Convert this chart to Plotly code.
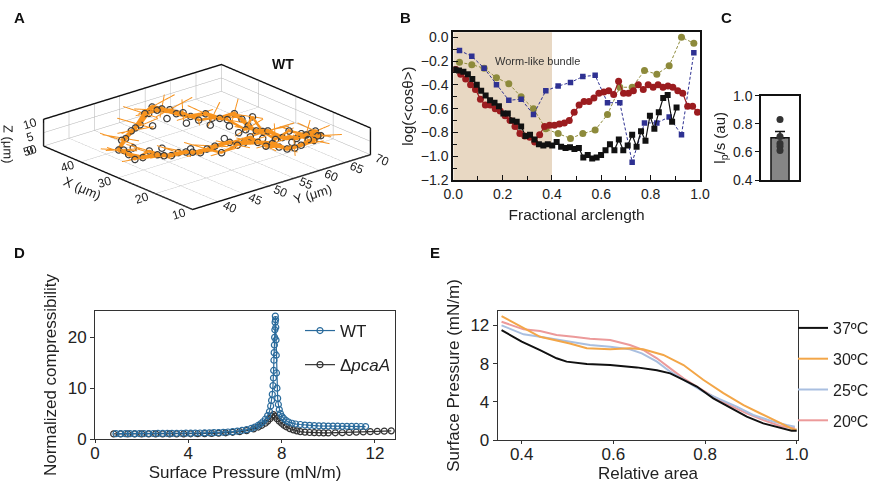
import plotly.graph_objects as go

FONT = "Arial, Liberation Sans, sans-serif"

# ---------------- Panel A data (3D filament, μm) ----------------
a_x = [38.2, 40.6, 43.4, 46.6, 48.2, 46.4, 44.0, 41.4, 39.7, 37.4, 36.5, 34.6, 31.4, 28.7, 26.4, 23.3, 21.4,
       20.6, 21.0, 19.7, 18.7, 18.4, 19.6, 22.3, 24.3, 26.6, 27.5, 27.8, 28.0, 28.9, 30.2, 31.1, 32.7, 35.4, 38.2]
a_y = [41.1, 44.2, 48.2, 52.4, 55.0, 55.6, 56.7, 57.6, 59.3, 60.4, 62.6, 62.7, 61.6, 61.2, 61.8, 62.4, 63.8,
       65.1, 67.2, 67.3, 65.2, 62.5, 60.6, 59.7, 58.3, 57.2, 55.1, 52.4, 49.7, 47.5, 45.6, 43.5, 41.8, 41.0, 41.1]
a_z = [2, 3, 3, 4, 4, 4, 3, 3, 4, 3, 4, 3, 3, 3, 4, 3, 3, 4, 4, 3, 3, 3, 2, 3, 3, 2, 3, 3, 2, 3, 2, 3, 2, 2, 2]
a2_x = [42.2, 42.3, 39.4, 36.0, 32.5, 30.0, 25.2, 20.5, 18.7, 37.3, 33.0, 30.5, 29.5]
a2_y = [50.7, 53.6, 55.3, 57.5, 58.7, 58.7, 59.9, 62.2, 64.1, 43.3, 45.8, 49.6, 55.5]
a2_z = [3, 4, 3, 3, 4, 3, 3, 3, 4, 2, 3, 2, 3]
a3_x = [40.4, 41.8, 45.0, 47.2, 45.5, 46.2, 42.6, 39.1, 39.3, 35.1, 30.3, 32.3, 28.7, 23.4, 24.0, 22.6, 22.6,
        19.0, 18.1, 21.2, 22.0, 26.2, 25.6, 25.6, 27.6, 27.1, 30.5, 30.0, 33.4, 32.9, 36.6]
a3_y = [43.3, 46.2, 50.3, 53.6, 54.0, 57.0, 57.0, 57.5, 60.3, 60.2, 60.3, 63.1, 62.5, 61.1, 64.2, 65.6, 67.5,
        66.2, 61.0, 60.2, 58.2, 58.2, 55.2, 52.1, 50.7, 47.5, 47.2, 44.0, 43.6, 40.4, 40.9]
a3_z = [3, 4, 2, 3, 5, 3, 4, 3, 2, 4, 3, 5, 2, 3, 4, 3, 2, 4, 3, 2, 3, 4, 3, 2, 3, 4, 2, 3, 3, 2, 3]
# tangent spikes (orange)
s_dx = [-3, 2, -2, 3, -2, 2, 3, -2, 2, -3, 3, -2, 2, 3, -3, 2, -2, 3, 2, -3, 3, -2, 2, -3, 3, -2, -3, 2, -2, 3, -3, 2, -2, 3]
s_dy = [2, -3, 3, -2, 3, 2, -3, 3, -2, 2, 3, -3, 2, -2, 3, -3, 2, 3, -2, 2, -3, 3, -2, 3, -2, 3, 2, -3, 3, -2, 2, -3, 3, -2]
s_dz = [1, 2, 3, 2, 4, 3, 1, 2, 3, 1, 2, 4, 2, 1, 3, 2, 1, 2, 3, 1, 2, 1, 2, 3, 1, 2, 3, 1, 2, 1, 2, 3, 1, 2]
s3_dx = [3, -2, 2, -3, 2, -2, 3, -3, 2, 3, -2, 2, -3, 3, -2, 3, -2, 2, 3, -3, 2, -2, 3, -2, 2, -3, 3, -2, 2, -3, 2]
s3_dy = [-2, 3, -3, 2, -3, 3, 2, -2, 3, -3, 2, -2, 3, 2, -3, -2, 3, -3, 2, 3, -2, 3, -2, 2, -3, 2, -2, 3, -3, 2, -3]
s3_dz = [2, 1, 3, 2, 1, 4, 2, 1, 3, 2, 4, 1, 2, 3, 1, 2, 3, 1, 2, 1, 3, 2, 1, 2, 3, 1, 2, 1, 3, 2, 1]

# ---------------- Panel B data ----------------
b_black_x = [0.005, 0.023, 0.041, 0.059, 0.077, 0.095, 0.113, 0.131, 0.149, 0.167, 0.185, 0.203, 0.221, 0.239,
             0.257, 0.275, 0.293, 0.311, 0.329, 0.347, 0.365, 0.383, 0.401, 0.419, 0.437, 0.455, 0.473, 0.491,
             0.509, 0.527, 0.545, 0.563, 0.581, 0.599, 0.617, 0.635, 0.653, 0.671, 0.689, 0.707, 0.725, 0.743,
             0.761, 0.779, 0.797, 0.815, 0.833, 0.851, 0.869, 0.887, 0.905]
b_black_y = [-0.27, -0.28, -0.29, -0.31, -0.35, -0.40, -0.45, -0.49, -0.53, -0.55, -0.58, -0.64, -0.64, -0.70,
             -0.71, -0.75, -0.83, -0.82, -0.86, -0.90, -0.91, -0.90, -0.91, -0.88, -0.92, -0.93, -0.925, -0.94,
             -0.93, -1.01, -0.99, -1.02, -1.01, -0.99, -0.95, -0.90, -0.95, -0.86, -0.95, -0.91, -0.82, -0.92,
             -0.79, -0.87, -0.66, -0.77, -0.63, -0.51, -0.485, -0.71, -0.59]
b_red_x = [0.01, 0.03, 0.05, 0.07, 0.09, 0.11, 0.13, 0.15, 0.17, 0.19, 0.21, 0.23, 0.25, 0.27, 0.29, 0.31, 0.33,
           0.35, 0.37, 0.39, 0.41, 0.43, 0.45, 0.47, 0.49, 0.51, 0.53, 0.55, 0.57, 0.59, 0.61, 0.63, 0.65, 0.67,
           0.69, 0.71, 0.73, 0.75, 0.77, 0.79, 0.81, 0.83, 0.85, 0.87, 0.89, 0.91, 0.93, 0.95, 0.97, 0.99]
b_red_y = [-0.27, -0.31, -0.35, -0.40, -0.44, -0.52, -0.57, -0.57, -0.60, -0.62, -0.66, -0.70, -0.75, -0.81,
           -0.83, -0.84, -0.88, -0.82, -0.75, -0.74, -0.74, -0.73, -0.72, -0.70, -0.63, -0.57, -0.54, -0.54,
           -0.51, -0.47, -0.46, -0.45, -0.48, -0.37, -0.47, -0.47, -0.45, -0.40, -0.44, -0.40, -0.42, -0.40,
           -0.42, -0.41, -0.42, -0.45, -0.47, -0.58, -0.58, -0.63]
b_grid_x = [0.025, 0.075, 0.125, 0.175, 0.225, 0.275, 0.325, 0.375, 0.425, 0.475, 0.525, 0.575, 0.625, 0.675,
            0.725, 0.775, 0.825, 0.875, 0.925, 0.975]
b_olive_y = [-0.21, -0.23, -0.26, -0.34, -0.39, -0.50, -0.60, -0.77, -0.81, -0.85, -0.81, -0.78, -0.65, -0.42,
             -0.42, -0.28, -0.31, -0.24, 0.00, -0.05]
b_blue_y = [-0.11, -0.16, -0.26, -0.40, -0.53, -0.52, -0.65, -0.45, -0.41, -0.38, -0.33, -0.32, -0.55, -0.55,
            -1.05, -0.72, -0.72, -0.67, -0.82, -0.13]

# ---------------- Panel C data ----------------
c_mean = 0.70
c_err = 0.045
c_points = [0.83, 0.71, 0.66, 0.64, 0.61]

# ---------------- Panel D data ----------------
d_wt_x = [0.9, 1.1, 1.3, 1.5, 1.7, 1.9, 2.1, 2.3, 2.5, 2.7, 2.9, 3.1, 3.3, 3.5, 3.7, 3.9, 4.1, 4.3, 4.5, 4.7,
          4.9, 5.1, 5.3, 5.5, 5.7, 5.9, 6.1, 6.3, 6.5, 6.7, 6.85, 7.0, 7.1, 7.2, 7.3, 7.4, 7.48, 7.53, 7.57, 7.6,
          7.63, 7.65, 7.66, 7.67, 7.68, 7.69, 7.7, 7.71, 7.72, 7.73, 7.74, 7.75, 7.76, 7.77, 7.78, 7.8, 7.83,
          7.86, 7.9, 7.95, 8.02, 8.1, 8.2, 8.3, 8.45, 8.6, 8.8, 9.0, 9.2, 9.4, 9.6, 9.8, 10.0, 10.2, 10.4, 10.6,
          10.8, 11.0, 11.2, 11.4, 11.6]
d_wt_y = [1.05, 1.05, 1.05, 1.06, 1.06, 1.07, 1.07, 1.08, 1.08, 1.09, 1.1, 1.1, 1.11, 1.12, 1.13, 1.14, 1.15,
          1.17, 1.18, 1.2, 1.22, 1.25, 1.28, 1.32, 1.38, 1.45, 1.55, 1.68, 1.85, 2.1, 2.35, 2.7, 3.0, 3.4, 3.9,
          4.6, 5.4, 6.5, 7.6, 8.8, 10.5, 12, 13.5, 15.5, 17, 18.5, 20, 21.5, 23, 24.2, 23.5, 22, 19.5, 16.5, 13,
          10, 8, 6.8, 5.8, 5.0, 4.4, 4.0, 3.6, 3.35, 3.1, 2.95, 2.85, 2.75, 2.7, 2.65, 2.6, 2.58, 2.55, 2.55,
          2.52, 2.5, 2.5, 2.48, 2.47, 2.46, 2.45]
d_ko_x = [0.8, 1.1, 1.4, 1.7, 2.0, 2.3, 2.6, 2.9, 3.2, 3.5, 3.8, 4.1, 4.4, 4.7, 5.0, 5.3, 5.6, 5.9, 6.2, 6.5,
          6.8, 7.0, 7.15, 7.3, 7.4, 7.5, 7.58, 7.65, 7.72, 7.8, 7.9, 8.0, 8.1, 8.2, 8.35, 8.5, 8.65, 8.8, 9.0,
          9.2, 9.4, 9.6, 9.8, 10.0, 10.3, 10.6, 10.9, 11.2, 11.5, 11.8, 12.1, 12.4, 12.7]
d_ko_y = [1.0, 1.0, 1.0, 1.0, 1.0, 1.0, 1.0, 1.0, 1.0, 1.0, 1.0, 1.02, 1.04, 1.06, 1.1, 1.15, 1.22, 1.32, 1.45,
          1.65, 2.0, 2.35, 2.7, 3.1, 3.5, 4.0, 4.5, 4.8, 4.5, 4.0, 3.5, 3.1, 2.7, 2.4, 2.05, 1.8, 1.6, 1.45,
          1.35, 1.28, 1.25, 1.22, 1.2, 1.2, 1.22, 1.25, 1.3, 1.35, 1.4, 1.45, 1.5, 1.55, 1.6]

# ---------------- Panel E data ----------------
e_x37 = [0.356, 0.37, 0.40, 0.44, 0.476, 0.498, 0.542, 0.593, 0.651, 0.695, 0.724, 0.753, 0.782, 0.818, 0.855,
         0.891, 0.927, 0.964, 0.989, 1.0]
e_y37 = [11.5, 11.1, 10.3, 9.4, 8.55, 8.2, 7.95, 7.85, 7.6, 7.3, 6.97, 6.3, 5.6, 4.36, 3.38, 2.44, 1.74, 1.29,
         0.98, 0.98]
e_x30 = [0.356, 0.40, 0.44, 0.505, 0.542, 0.593, 0.636, 0.665, 0.709, 0.753, 0.796, 0.84, 0.884, 0.92, 0.964,
         0.993, 1.0]
e_y30 = [12.97, 11.86, 10.8, 10.1, 9.6, 9.5, 9.6, 9.5, 8.9, 7.85, 6.3, 4.9, 3.66, 2.8, 1.74, 1.1, 1.1]
e_x25 = [0.356, 0.404, 0.44, 0.505, 0.549, 0.593, 0.636, 0.662, 0.695, 0.724, 0.753, 0.796, 0.833, 0.869,
         0.905, 0.949, 0.978, 0.996]
e_y25 = [12.0, 11.06, 10.8, 10.3, 9.94, 9.77, 9.5, 9.07, 8.2, 7.15, 6.3, 5.06, 4.26, 3.49, 2.62, 1.92, 1.57, 1.4]
e_x20 = [0.356, 0.404, 0.44, 0.476, 0.513, 0.549, 0.593, 0.636, 0.665, 0.695, 0.724, 0.753, 0.782, 0.818,
         0.855, 0.891, 0.927, 0.964, 0.996]
e_y20 = [12.38, 11.58, 11.4, 10.99, 10.8, 10.6, 10.46, 9.94, 9.42, 8.55, 7.5, 6.45, 5.58, 4.53, 3.6, 2.79,
         2.09, 1.47, 1.22]

W, H = 876, 485


def fx(p):
    return p / W


def fy(p):
    return 1 - p / H


fig = go.Figure()

# ---------- A: 3D ----------
sx, sy, sz = [], [], []
for px_, py_, pz_, ddx, ddy, ddz in list(zip(a_x, a_y, a_z, s_dx, s_dy, s_dz)) + \
        list(zip(a3_x, a3_y, a3_z, s3_dx, s3_dy, s3_dz)):
    sx += [px_ - 0.6 * ddx, px_ + ddx, None]
    sy += [py_ - 0.6 * ddy, py_ + ddy, None]
    sz += [pz_ - 0.6 * ddz, pz_ + ddz, None]
fig.add_trace(go.Scatter3d(x=a_x, y=a_y, z=a_z, mode="lines", line=dict(color="#f7931e", width=8),
                           showlegend=False, hoverinfo="skip", scene="scene"))
fig.add_trace(go.Scatter3d(x=a3_x, y=a3_y, z=a3_z, mode="lines", line=dict(color="#f7931e", width=5),
                           showlegend=False, hoverinfo="skip", scene="scene"))
fig.add_trace(go.Scatter3d(x=sx, y=sy, z=sz, mode="lines", line=dict(color="#f7931e", width=2),
                           showlegend=False, hoverinfo="skip", scene="scene"))
fig.add_trace(go.Scatter3d(x=a_x + a2_x + a3_x, y=a_y + a2_y + a3_y, z=a_z + a2_z + a3_z, mode="markers",
                           marker=dict(symbol="circle-open", size=4, color="#222", line=dict(width=1)),
                           showlegend=False, hoverinfo="skip", scene="scene"))

ax3 = dict(showbackground=False, gridcolor="#b0b0b0", gridwidth=1, showline=True, linecolor="#111",
           linewidth=3, zeroline=False, showspikes=False, tickfont=dict(size=12, color="#222", family=FONT),
           ticks="", mirror=True)
k = 1.6
asp = 2.3
fig.update_layout(scene=dict(
    domain=dict(x=[0.0, 0.4726], y=[0.5124, 0.9247]),
    xaxis=dict(ax3, title=dict(text="X (μm)", font=dict(size=13)), range=[50, 10], tickvals=[10, 20, 30, 40, 50]),
    yaxis=dict(ax3, title=dict(text="Y (μm)", font=dict(size=13)), range=[35, 70],
               tickvals=[35, 40, 45, 50, 55, 60, 65, 70]),
    zaxis=dict(ax3, title=dict(text="Z (μm)", font=dict(size=13)), range=[0, 10], tickvals=[0, 5, 10]),
    aspectmode="manual", aspectratio=dict(x=1 * asp, y=1.015 * asp, z=0.125 * asp),
    camera=dict(eye=dict(x=0.710 * k, y=-0.604 * k, z=0.362 * k), projection=dict(type="orthographic")),
    bgcolor="white",
))

# ---------- B ----------
fig.add_trace(go.Scatter(x=b_grid_x, y=b_olive_y, mode="lines+markers", xaxis="x", yaxis="y",
                         line=dict(color="#8d8a3b", width=1, dash="3px,2px"),
                         marker=dict(symbol="circle", size=7, color="#8d8a3b"), showlegend=False))
fig.add_trace(go.Scatter(x=b_grid_x, y=b_blue_y, mode="lines+markers", xaxis="x", yaxis="y",
                         line=dict(color="#2e3192", width=1, dash="3px,2px"),
                         marker=dict(symbol="square", size=5.5, color="#2e3192"), showlegend=False))
fig.add_trace(go.Scatter(x=b_red_x, y=b_red_y, mode="lines+markers", xaxis="x", yaxis="y",
                         line=dict(color="#9b1c1f", width=1.2),
                         marker=dict(symbol="circle", size=7, color="#9b1c1f"), showlegend=False))
fig.add_trace(go.Scatter(x=b_black_x, y=b_black_y, mode="lines+markers", xaxis="x", yaxis="y",
                         line=dict(color="#111", width=1.2),
                         marker=dict(symbol="square", size=6, color="#111"), showlegend=False))

# ---------- C ----------
fig.add_trace(go.Bar(x=[0], y=[c_mean], width=0.95, xaxis="x2", yaxis="y2",
                     marker=dict(color="#858585", line=dict(color="#111", width=1.5)),
                     error_y=dict(type="data", array=[c_err], arrayminus=[0], color="#111", thickness=1.5, width=5),
                     showlegend=False))
fig.add_trace(go.Scatter(x=[0] * len(c_points), y=c_points, mode="markers", xaxis="x2", yaxis="y2",
                         marker=dict(size=7, color="#333"), showlegend=False))

# ---------- D ----------
fig.add_trace(go.Scatter(x=d_ko_x, y=d_ko_y, mode="lines+markers", xaxis="x3", yaxis="y3",
                         name="Δ<i>pcaA</i>", legend="legend", legendgroup="ko", legendrank=2,
                         line=dict(color="#333333", width=1.2),
                         marker=dict(symbol="circle-open", size=6, color="#333333", line=dict(width=1.2))))
fig.add_trace(go.Scatter(x=d_wt_x, y=d_wt_y, mode="lines+markers", xaxis="x3", yaxis="y3",
                         name="WT", legend="legend", legendgroup="wt", legendrank=1,
                         line=dict(color="#2a6b9c", width=1.2),
                         marker=dict(symbol="circle-open", size=6, color="#2a6b9c", line=dict(width=1.2))))

# ---------- E ----------
for xs, ys, nm, col, rk in [(e_x20, e_y20, "20ºC", "#ec9a9a", 4), (e_x25, e_y25, "25ºC", "#a9bfe0", 3),
                            (e_x30, e_y30, "30ºC", "#f3a648", 2), (e_x37, e_y37, "37ºC", "#111111", 1)]:
    fig.add_trace(go.Scatter(x=xs, y=ys, mode="lines", xaxis="x4", yaxis="y4", name=nm, legend="legend2",
                             legendgroup=nm, legendrank=rk, line=dict(color=col, width=2)))

tick_font = dict(family=FONT, size=14, color="#222")
big_font = dict(family=FONT, size=17, color="#222")
common = dict(showgrid=False, zeroline=False, automargin=False)

fig.update_layout(
    template="none",
    width=W, height=H, margin=dict(l=0, r=0, t=0, b=0, autoexpand=False),
    paper_bgcolor="white", plot_bgcolor="white",
    font=dict(family=FONT, color="#222"),
    # B
    xaxis=dict(common, domain=[fx(453.3), fx(700)], anchor="y", range=[0, 1], tickvals=[0, 0.2, 0.4, 0.6, 0.8, 1.0],
               tickformat=".1f", ticks="inside", ticklen=5, tickcolor="#111",
               minor=dict(dtick=0.1, ticks="inside", ticklen=4, tickcolor="#111"),
               showline=True, linecolor="#111", linewidth=2, mirror=True,
               tickfont=tick_font, title=dict(text="Fractional arclength", font=dict(family=FONT, size=15.5),
                                              standoff=8)),
    yaxis=dict(common, domain=[fy(180), fy(32.3)], anchor="x", range=[-1.2, 0.042],
               tickvals=[-1.2, -1.0, -0.8, -0.6, -0.4, -0.2, 0.0], tickformat=".1f",
               ticks="inside", ticklen=5, tickcolor="#111",
               minor=dict(dtick=0.1, ticks="inside", ticklen=4, tickcolor="#111"),
               showline=True, linecolor="#111", linewidth=2, mirror=True,
               tickfont=tick_font, title=dict(text="log(&lt;cosθ&gt;)", font=dict(family=FONT, size=15),
                                              standoff=4)),
    # C
    xaxis2=dict(common, domain=[fx(761), fx(799)], anchor="y2", range=[-1, 1], showticklabels=False, ticks="",
                showline=True, linecolor="#111", linewidth=1.5, mirror=True),
    yaxis2=dict(common, domain=[fy(180), fy(95.7)], anchor="x2", range=[0.4, 1.0], tickvals=[0.4, 0.6, 0.8, 1.0],
                tickformat=".1f", ticks="outside", ticklen=4, tickcolor="#111",
                showline=True, linecolor="#111", linewidth=1.5, mirror=True,
                tickfont=tick_font, title=dict(text="l<sub>p</sub>/s (au)", font=dict(family=FONT, size=15),
                                               standoff=4)),
    # D
    xaxis3=dict(common, domain=[fx(95), fx(395)], anchor="y3", range=[0, 12.86], tickvals=[0, 4, 8, 12],
                ticks="outside", ticklen=3, tickcolor="#333", ticklabelstandoff=-4,
                showline=True, linecolor="#333", linewidth=1, mirror=True,
                tickfont=big_font, title=dict(text="Surface Pressure (mN/m)", font=big_font, standoff=1)),
    yaxis3=dict(common, domain=[fy(439), fy(311)], anchor="x3", range=[0, 25.2], tickvals=[0, 10, 20],
                ticks="outside", ticklen=4, tickcolor="#333",
                showline=True, linecolor="#333", linewidth=1, mirror=True,
                tickfont=big_font, title=dict(text="Normalized compressibility", font=big_font, standoff=6)),
    # E
    xaxis4=dict(common, domain=[fx(497.7), fx(798.3)], anchor="y4", range=[0.3476, 1.0035],
                tickvals=[0.4, 0.6, 0.8, 1.0], ticklabelstandoff=-4,
                tickformat=".1f", ticks="outside", ticklen=3, tickcolor="#333",
                showline=True, linecolor="#333", linewidth=1, mirror=True,
                tickfont=big_font, title=dict(text="Relative area", font=big_font, standoff=1)),
    yaxis4=dict(common, domain=[fy(440), fy(311)], anchor="x4", range=[0, 13.5], tickvals=[0, 4, 8, 12],
                ticks="outside", ticklen=4, tickcolor="#333",
                showline=True, linecolor="#333", linewidth=1, mirror=True,
                tickfont=big_font, title=dict(text="Surface Pressure (mN/m)", font=big_font, standoff=6)),
    legend=dict(x=fx(300), y=fy(313), xanchor="left", yanchor="top", bgcolor="rgba(0,0,0,0)",
                font=dict(family=FONT, size=17, color="#222"), tracegroupgap=9, itemwidth=30),
    legend2=dict(x=fx(793), y=fy(311), xanchor="left", yanchor="top", bgcolor="rgba(0,0,0,0)",
                 font=dict(family=FONT, size=16, color="#222"), tracegroupgap=7, itemwidth=30),
    shapes=[dict(type="rect", xref="x", yref="y domain", x0=0, x1=0.4, y0=0, y1=1,
                 fillcolor="#e8d8c3", line=dict(width=0), layer="below")],
    annotations=[
        dict(text="<b>A</b>", x=fx(12), y=fy(18), xref="paper", yref="paper", showarrow=False,
             font=dict(family=FONT, size=15, color="#111"), xanchor="left", yanchor="middle"),
        dict(text="<b>B</b>", x=fx(398), y=fy(18), xref="paper", yref="paper", showarrow=False,
             font=dict(family=FONT, size=15, color="#111"), xanchor="left", yanchor="middle"),
        dict(text="<b>C</b>", x=fx(719), y=fy(18), xref="paper", yref="paper", showarrow=False,
             font=dict(family=FONT, size=15, color="#111"), xanchor="left", yanchor="middle"),
        dict(text="<b>D</b>", x=fx(12), y=fy(252), xref="paper", yref="paper", showarrow=False,
             font=dict(family=FONT, size=15, color="#111"), xanchor="left", yanchor="middle"),
        dict(text="<b>E</b>", x=fx(428), y=fy(252), xref="paper", yref="paper", showarrow=False,
             font=dict(family=FONT, size=15, color="#111"), xanchor="left", yanchor="middle"),
        dict(text="<b>WT</b>", x=fx(283), y=fy(64), xref="paper", yref="paper", showarrow=False,
             font=dict(family=FONT, size=14, color="#111"), xanchor="center", yanchor="middle"),
        dict(text="Worm-like bundle", x=0.16, y=-0.2, xref="x", yref="y", showarrow=False,
             font=dict(family=FONT, size=11, color="#333"), xanchor="left", yanchor="middle"),
    ],
)

fig.write_html("out.html", post_script="document.body.style.margin='0px';",
               config={"displayModeBar": False})
